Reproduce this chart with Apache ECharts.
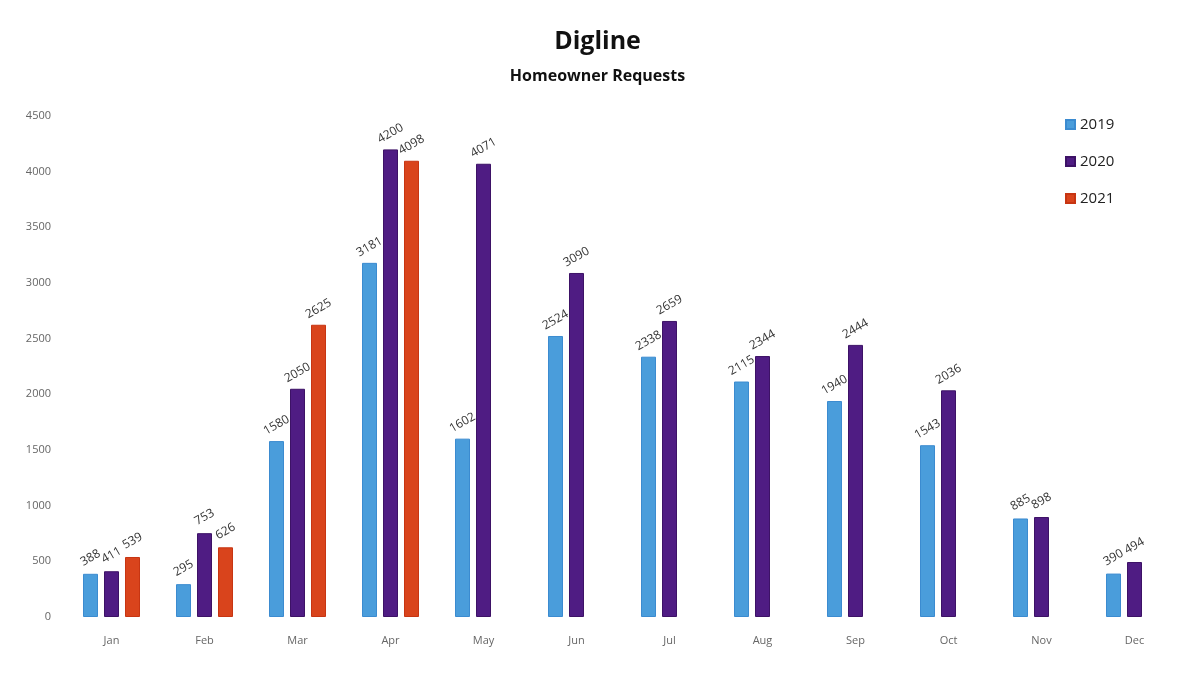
<!DOCTYPE html>
<html>
<head>
<meta charset="UTF-8">
<script src="https://cdn.jsdelivr.net/npm/echarts@6/dist/echarts.min.js"></script>
<style>
  html, body { margin: 0; padding: 0; background: #fff; }
  #chart { width: 1195px; height: 687px; }
</style>
</head>
<body>
<div id="chart"></div>
<script type="text/javascript">
  // 月份和每年的请求数
  var months = ['Jan', 'Feb', 'Mar', 'Apr', 'May', 'Jun', 'Jul', 'Aug', 'Sep', 'Oct', 'Nov', 'Dec'];
  var years = ['2019', '2020', '2021'];
  var data2019 = [388, 295, 1580, 3181, 1602, 2524, 2338, 2115, 1940, 1543, 885, 390];
  var data2020 = [411, 753, 2050, 4200, 4071, 3090, 2659, 2344, 2444, 2036, 898, 494];
  var data2021 = [539, 626, 2625, 4098, null, null, null, null, null, null, null, null];
  var colors = ['#4a9ddb', '#4f1c83', '#d9441c'];
  var borders = ['#3b8bd0', '#3d1266', '#c73512'];

  var myChart = echarts.init(document.getElementById('chart'));

  function makeSeries(name, values, i) {
    return {
      name: name,
      type: 'bar',
      data: values,
      barWidth: 15,
      barGap: '40%',
      itemStyle: { color: colors[i], borderColor: borders[i], borderWidth: 1 },
      label: {
        show: true,
        position: 'top',
        rotate: 30,
        align: 'center',
        verticalAlign: 'middle',
        distance: 16,
        color: '#333',
        fontSize: 12,
        fontFamily: 'Open Sans'
      }
    };
  }

  var option = {
    backgroundColor: '#fff',
    textStyle: { fontFamily: 'Open Sans' },
    title: {
      text: 'Digline',
      subtext: 'Homeowner Requests',
      left: 'center',
      top: 24,
      itemGap: 14,
      textStyle: { fontSize: 25, fontWeight: 'bold', color: '#111' },
      subtextStyle: { fontSize: 16, fontWeight: 'bold', color: '#111' }
    },
    legend: {
      orient: 'vertical',
      left: 1060,
      top: 112,
      itemWidth: 9,
      itemHeight: 9,
      itemGap: 22,
      icon: 'rect',
      textStyle: { fontSize: 15, color: '#222' },
      data: years
    },
    grid: { left: 65, right: 14, top: 116, bottom: 70 },
    xAxis: {
      type: 'category',
      data: months,
      axisLine: { show: false },
      axisTick: { show: false },
      axisLabel: { color: '#666', fontSize: 11, margin: 18 }
    },
    yAxis: {
      type: 'value',
      min: 0,
      max: 4500,
      interval: 500,
      axisLine: { show: false },
      axisTick: { show: false },
      splitLine: { show: false },
      axisLabel: {
        color: '#666',
        fontSize: 11,
        margin: 14,
        formatter: function(v) { return String(v); }
      }
    },
    series: [
      makeSeries(years[0], data2019, 0),
      makeSeries(years[1], data2020, 1),
      makeSeries(years[2], data2021, 2)
    ]
  };
  myChart.setOption(option);
</script>
</body>
</html>
